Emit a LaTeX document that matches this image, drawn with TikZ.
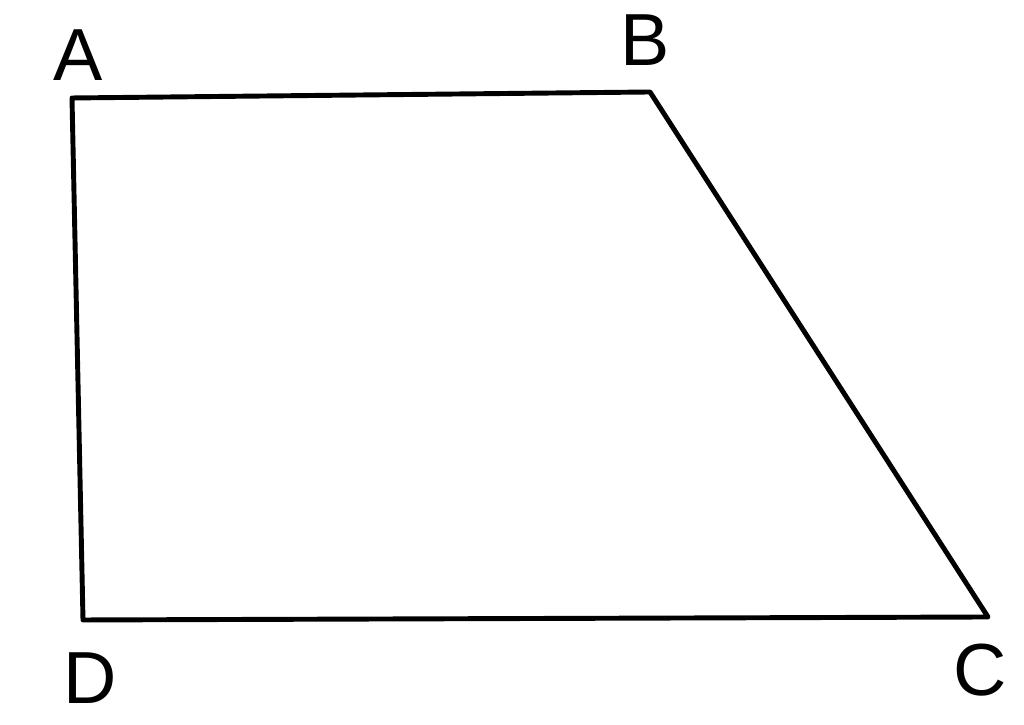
\documentclass[tikz,border=0pt]{standalone}
\usepackage{fontspec}
\setmainfont{Liberation Sans}
\tikzset{vertex/.style={font=\fontsize{21}{21}\selectfont,inner sep=0pt}}
\begin{document}
\begin{tikzpicture}
\useasboundingbox (0,0) rectangle (10.24,7.25);
\coordinate (A) at (0.72,6.27);
\coordinate (B) at (6.50,6.33);
\coordinate (C) at (9.88,1.08);
\coordinate (D) at (0.83,1.05);
\draw[line width=1.4pt,line join=round] (A)--(B)--(C)--(D)--cycle;
\node[vertex] (lA) at (0.78,6.70) {A};
\node[vertex] (lB) at (6.45,6.85) {B};
\node[vertex] (lC) at (9.80,0.55) {C};
\node[vertex] (lD) at (0.90,0.47) {D};
\end{tikzpicture}
\end{document}
